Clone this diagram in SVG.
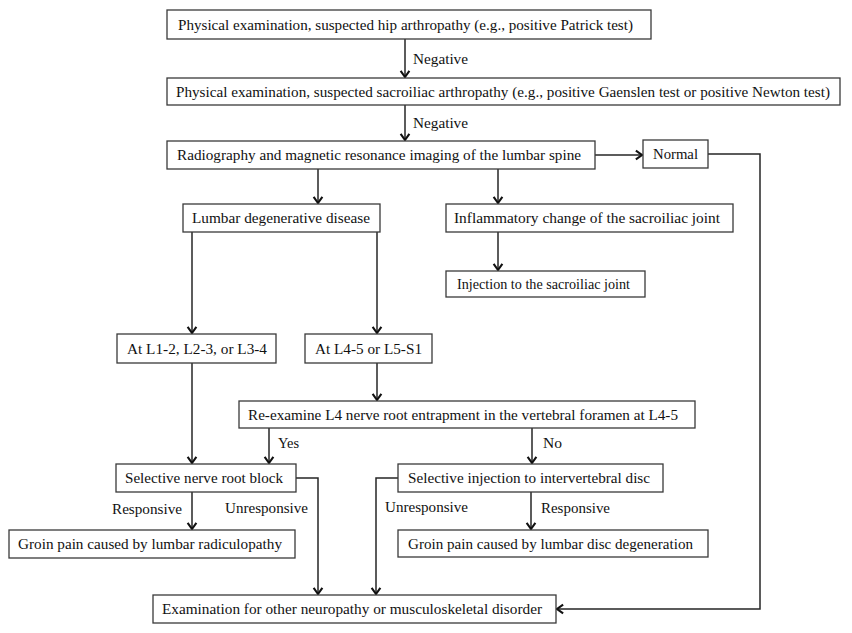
<svg xmlns="http://www.w3.org/2000/svg" width="852" height="633" viewBox="0 0 852 633">
<defs>
<style>
.box{fill:#fff;stroke:#3a3a3a;stroke-width:1.3}
.t,.l{font-family:"Liberation Serif","Times New Roman",serif;font-size:15.5px;fill:#111}
.c{fill:none;stroke:#262626;stroke-width:1.5}
</style>
<marker id="ah" markerUnits="userSpaceOnUse" markerWidth="14" markerHeight="14" viewBox="-8 -8 16 16" refX="0" refY="0" orient="auto">
<path d="M-7,-5 L0,0 L-7,5" fill="none" stroke="#111" stroke-width="2.4"/>
</marker>
</defs>
<rect width="852" height="633" fill="#fff"/>
<g id="connectors">
<path class="c" d="M405,39 V77" marker-end="url(#ah)"/>
<path class="c" d="M405,105 V140" marker-end="url(#ah)"/>
<path class="c" d="M595,155 H642" marker-end="url(#ah)"/>
<path class="c" d="M318,169 V203" marker-end="url(#ah)"/>
<path class="c" d="M498,169 V203" marker-end="url(#ah)"/>
<path class="c" d="M498,232 V270" marker-end="url(#ah)"/>
<path class="c" d="M192,232 V333" marker-end="url(#ah)"/>
<path class="c" d="M377,232 V333" marker-end="url(#ah)"/>
<path class="c" d="M377,363 V400" marker-end="url(#ah)"/>
<path class="c" d="M192,363 V463" marker-end="url(#ah)"/>
<path class="c" d="M269,428 V463" marker-end="url(#ah)"/>
<path class="c" d="M532,428 V463" marker-end="url(#ah)"/>
<path class="c" d="M192,492 V529" marker-end="url(#ah)"/>
<path class="c" d="M531,492 V529" marker-end="url(#ah)"/>
<path class="c" d="M296,478 H318 V594" marker-end="url(#ah)"/>
<path class="c" d="M398,478 H376 V594" marker-end="url(#ah)"/>
<path class="c" d="M708,154 H760 V609 H557" marker-end="url(#ah)"/>
<text class="l" x="413" y="64" textLength="55" lengthAdjust="spacingAndGlyphs">Negative</text>
<text class="l" x="413" y="128" textLength="55" lengthAdjust="spacingAndGlyphs">Negative</text>
<text class="l" x="278" y="448" textLength="21" lengthAdjust="spacingAndGlyphs">Yes</text>
<text class="l" x="543" y="448" textLength="19" lengthAdjust="spacingAndGlyphs">No</text>
<text class="l" x="112" y="514" textLength="70" lengthAdjust="spacingAndGlyphs">Responsive</text>
<text class="l" x="225" y="513" textLength="83" lengthAdjust="spacingAndGlyphs">Unresponsive</text>
<text class="l" x="385" y="512" textLength="83" lengthAdjust="spacingAndGlyphs">Unresponsive</text>
<text class="l" x="541" y="513" textLength="69" lengthAdjust="spacingAndGlyphs">Responsive</text>
</g>
<g id="n1"><rect class="box" x="167" y="10" width="484" height="29"/><text class="t" x="178" y="30" textLength="455" lengthAdjust="spacingAndGlyphs">Physical examination, suspected hip arthropathy (e.g., positive Patrick test)</text></g>
<g id="n2"><rect class="box" x="167" y="78" width="673" height="27"/><text class="t" x="176" y="97" textLength="654" lengthAdjust="spacingAndGlyphs">Physical examination, suspected sacroiliac arthropathy (e.g., positive Gaenslen test or positive Newton test)</text></g>
<g id="n3"><rect class="box" x="167" y="141" width="428" height="28"/><text class="t" x="177" y="160" textLength="404" lengthAdjust="spacingAndGlyphs">Radiography and magnetic resonance imaging of the lumbar spine</text></g>
<g id="n4"><rect class="box" x="643" y="140" width="65" height="28"/><text class="t" x="653" y="159" textLength="45" lengthAdjust="spacingAndGlyphs">Normal</text></g>
<g id="n5"><rect class="box" x="183" y="204" width="197" height="28"/><text class="t" x="192" y="223" textLength="178" lengthAdjust="spacingAndGlyphs">Lumbar degenerative disease</text></g>
<g id="n6"><rect class="box" x="446" y="204" width="287" height="28"/><text class="t" x="454" y="223" textLength="266" lengthAdjust="spacingAndGlyphs">Inflammatory change of the sacroiliac joint</text></g>
<g id="n7"><rect class="box" x="446" y="271" width="199" height="26"/><text class="t" x="457" y="289" textLength="173" lengthAdjust="spacingAndGlyphs">Injection to the sacroiliac joint</text></g>
<g id="n8"><rect class="box" x="117" y="334" width="159" height="29"/><text class="t" x="127" y="353.5" textLength="140" lengthAdjust="spacingAndGlyphs">At L1-2, L2-3, or L3-4</text></g>
<g id="n9"><rect class="box" x="305" y="334" width="127" height="29"/><text class="t" x="315" y="353.5" textLength="107" lengthAdjust="spacingAndGlyphs">At L4-5 or L5-S1</text></g>
<g id="n10"><rect class="box" x="239" y="401" width="456" height="27"/><text class="t" x="248" y="420" textLength="430" lengthAdjust="spacingAndGlyphs">Re-examine L4 nerve root entrapment in the vertebral foramen at L4-5</text></g>
<g id="n11"><rect class="box" x="116" y="464" width="180" height="28"/><text class="t" x="125" y="483" textLength="158" lengthAdjust="spacingAndGlyphs">Selective nerve root block</text></g>
<g id="n12"><rect class="box" x="398" y="464" width="265" height="28"/><text class="t" x="408" y="483" textLength="242" lengthAdjust="spacingAndGlyphs">Selective injection to intervertebral disc</text></g>
<g id="n13"><rect class="box" x="9" y="530" width="286" height="28"/><text class="t" x="18" y="549" textLength="264" lengthAdjust="spacingAndGlyphs">Groin pain caused by lumbar radiculopathy</text></g>
<g id="n14"><rect class="box" x="398" y="530" width="310" height="27"/><text class="t" x="408" y="549" textLength="285" lengthAdjust="spacingAndGlyphs">Groin pain caused by lumbar disc degeneration</text></g>
<g id="n15"><rect class="box" x="153" y="595" width="403" height="28"/><text class="t" x="162" y="614" textLength="380" lengthAdjust="spacingAndGlyphs">Examination for other neuropathy or musculoskeletal disorder</text></g>
</svg>
